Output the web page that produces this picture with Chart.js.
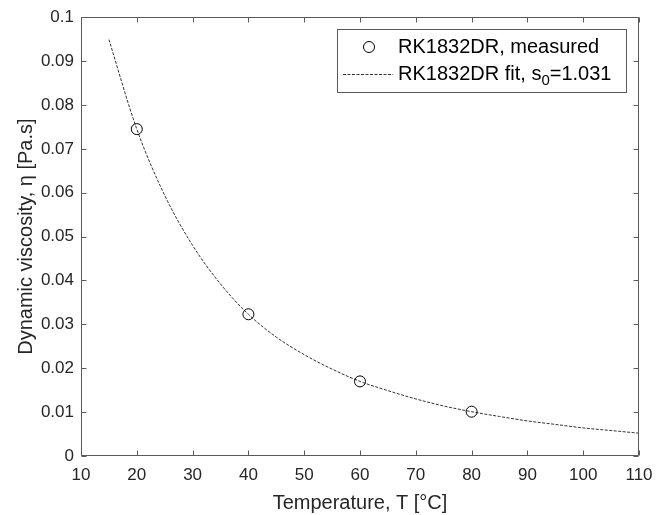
<!DOCTYPE html>
<html><head><meta charset="utf-8">
<script src="https://cdn.jsdelivr.net/npm/chart.js@4/dist/chart.umd.min.js"></script>
<style>html,body{margin:0;padding:0;background:#fff;}#wrap{width:668px;height:515px;}</style>
</head><body><div id="wrap"><canvas id="c" width="668" height="515"></canvas></div>
<script>
const measuredT = [20, 40, 60, 80];
const measuredEta = [0.0745, 0.0323, 0.0170, 0.0101];
const fitT = [15, 20, 25, 30, 35, 40, 45, 50, 55, 60, 65, 70, 75, 80, 85, 90, 95, 100, 105, 110];
const fitEta = [0.0949, 0.0745, 0.0594, 0.0480, 0.0392, 0.0323, 0.0271, 0.0231, 0.0198, 0.0170, 0.0149, 0.0130, 0.0114, 0.0101, 0.0090, 0.0080, 0.0072, 0.0064, 0.0058, 0.0052];
const xTicks = [10, 20, 30, 40, 50, 60, 70, 80, 90, 100, 110];
const yTicks = [0, 0.01, 0.02, 0.03, 0.04, 0.05, 0.06, 0.07, 0.08, 0.09, 0.1];
const legendMeasured = 'RK1832DR, measured';
const legendFitMain = 'RK1832DR fit, s';
const legendFitSub = '0';
const legendFitTail = '=1.031';
const xTitle = 'Temperature, T [°C]';
const yTitle = 'Dynamic viscosity, η [Pa.s]';

const FONT = "'Liberation Sans', Arial, Helvetica, sans-serif";
const TXT = '#262626';
const FRAME = '#5a5a5a';

const framePlugin = {
  id: 'frame',
  afterDraw(chart) {
    const ctx = chart.ctx;
    const a = chart.chartArea;
    const xs = chart.scales.x, ys = chart.scales.y;
    const L = Math.round(a.left) + 0.5, R = Math.round(a.right) - 0.5;
    const T = Math.round(a.top) + 0.5, B = Math.round(a.bottom) - 0.5;
    ctx.save();
    ctx.strokeStyle = FRAME;
    ctx.lineWidth = 1;
    ctx.beginPath();
    ctx.rect(L, T, R - L, B - T);
    const tl = 5;
    xTicks.forEach(v => {
      const px = Math.round(xs.getPixelForValue(v)) + 0.5;
      ctx.moveTo(px, B); ctx.lineTo(px, B - tl);
      ctx.moveTo(px, T); ctx.lineTo(px, T + tl);
    });
    yTicks.forEach(v => {
      const py = Math.round(ys.getPixelForValue(v)) + 0.5;
      ctx.moveTo(L, py); ctx.lineTo(L + tl, py);
      ctx.moveTo(R, py); ctx.lineTo(R - tl, py);
    });
    ctx.stroke();

    // legend box
    const bx = 337.5, by = 29.5, bw = 289, bh = 63;
    ctx.fillStyle = '#fff';
    ctx.fillRect(bx, by, bw, bh);
    ctx.strokeStyle = FRAME;
    ctx.strokeRect(bx, by, bw, bh);
    const row1 = 47, row2 = 74;
    // marker
    ctx.strokeStyle = '#000';
    ctx.beginPath();
    ctx.arc(369, row1, 5.5, 0, Math.PI * 2);
    ctx.stroke();
    // line sample
    ctx.strokeStyle = '#333';
    ctx.setLineDash([3, 1.5]);
    ctx.beginPath();
    ctx.moveTo(343, row2 + 0.5); ctx.lineTo(393, row2 + 0.5);
    ctx.stroke();
    ctx.setLineDash([]);
    // texts
    ctx.fillStyle = '#000';
    ctx.textBaseline = 'middle';
    ctx.textAlign = 'left';
    ctx.font = '20px ' + FONT;
    ctx.fillText(legendMeasured, 398, row1);
    ctx.fillText(legendFitMain, 398, row2);
    let w = ctx.measureText(legendFitMain).width;
    ctx.font = '15px ' + FONT;
    ctx.fillText(legendFitSub, 398 + w, row2 + 7);
    const w2 = ctx.measureText(legendFitSub).width;
    ctx.font = '20px ' + FONT;
    ctx.fillText(legendFitTail, 398 + w + w2, row2);
    ctx.restore();
  }
};

const fmt = v => {
  const r = Math.round(v * 100) / 100;
  return String(r);
};

new Chart(document.getElementById('c'), {
  type: 'scatter',
  data: {
    datasets: [
      {
        label: legendMeasured,
        data: measuredT.map((t, i) => ({ x: t, y: measuredEta[i] })),
        showLine: false,
        pointStyle: 'circle',
        pointRadius: 5.5,
        pointBorderWidth: 1,
        pointBorderColor: '#000',
        pointBackgroundColor: 'rgba(0,0,0,0)',
        order: 0
      },
      {
        label: legendFitMain + legendFitSub + legendFitTail,
        data: fitT.map((t, i) => ({ x: t, y: fitEta[i] })),
        showLine: true,
        pointRadius: 0,
        borderColor: '#333',
        borderWidth: 1,
        borderDash: [3, 1.5],
        cubicInterpolationMode: 'monotone',
        fill: false,
        order: 1
      }
    ]
  },
  options: {
    responsive: false,
    animation: false,
    devicePixelRatio: 1,
    layout: { padding: { left: 0, top: 16, right: 29, bottom: 0 } },
    plugins: { legend: { display: false }, tooltip: { enabled: false } },
    scales: {
      x: {
        type: 'linear', min: 10, max: 110,
        afterBuildTicks: s => { s.ticks = xTicks.map(v => ({ value: v })); },
        afterFit: s => { s.height = 59; },
        grid: { display: false, drawTicks: false },
        border: { display: false },
        ticks: { color: TXT, font: { family: FONT, size: 17 }, padding: 9, maxRotation: 0, autoSkip: false, callback: v => String(v) },
        title: { display: true, text: xTitle, color: TXT, font: { family: FONT, size: 20 }, padding: { top: 1, bottom: 0 } }
      },
      y: {
        type: 'linear', min: 0, max: 0.1,
        afterBuildTicks: s => { s.ticks = yTicks.map(v => ({ value: v })); },
        afterFit: s => { s.width = 81; },
        grid: { display: false, drawTicks: false },
        border: { display: false },
        ticks: { color: TXT, font: { family: FONT, size: 17 }, padding: 7, autoSkip: false, callback: v => fmt(v) },
        title: { display: true, text: yTitle, color: TXT, font: { family: FONT, size: 20 }, padding: { top: 14, bottom: 0 } }
      }
    }
  },
  plugins: [framePlugin]
});
</script>
</body></html>
